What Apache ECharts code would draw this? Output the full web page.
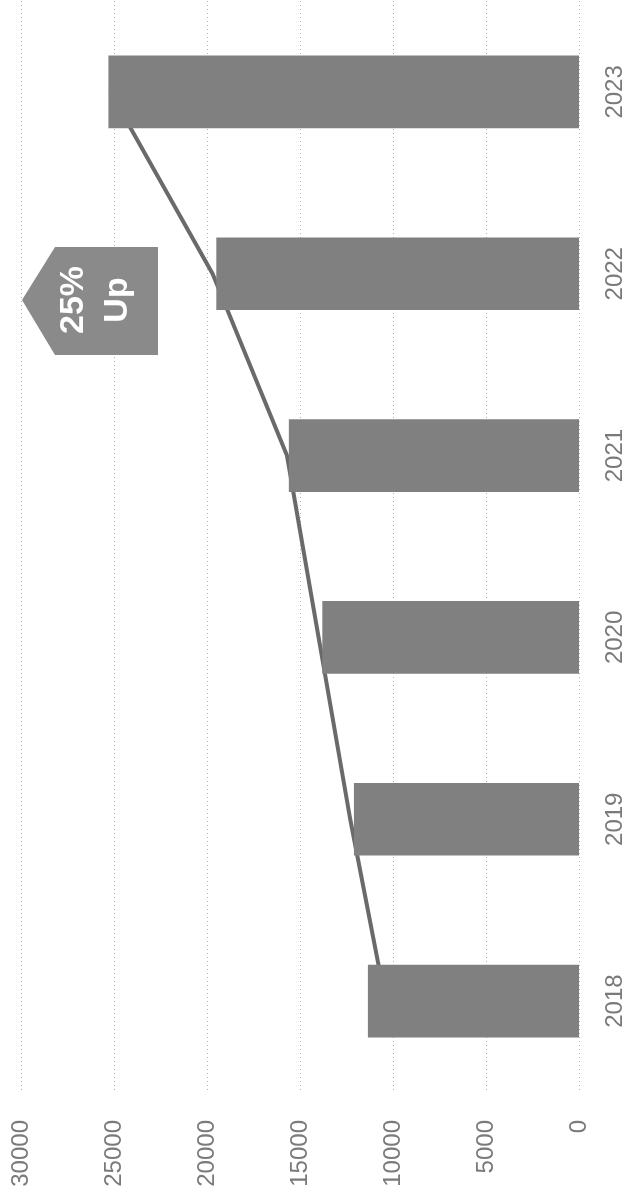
<!DOCTYPE html>
<html>
<head>
<meta charset="utf-8">
<script src="https://cdn.jsdelivr.net/npm/echarts@6/dist/echarts.min.js"></script>
<style>
  html, body { margin: 0; padding: 0; background: #ffffff; }
  #chart { width: 627px; height: 1195px; }
</style>
</head>
<body>
<div id="chart"></div>
<script>
// Yearly totals (bars) and the growth trend line drawn behind them
const years = ['2018', '2019', '2020', '2021', '2022', '2023'];
const barValues = [11350, 12100, 13800, 15600, 19500, 25300];
const trendValues = [10400, 12300, 14000, 15700, 19700, 25200];
const valueTicks = { min: 0, max: 30000, interval: 5000 };
const badgeLines = ['25%', 'Up'];

const chart = echarts.init(document.getElementById('chart'), null, { renderer: 'canvas' });

const labelFont = {
  fontFamily: 'Liberation Sans, Arial, sans-serif',
  fontSize: 24,
  color: '#7a7a7a'
};

chart.setOption({
  animation: false,
  backgroundColor: '#ffffff',
  grid: { left: 21, right: 46, top: 1, bottom: 103, containLabel: false },
  xAxis: {
    type: 'value',
    inverse: true,
    position: 'bottom',
    min: valueTicks.min,
    max: valueTicks.max,
    interval: valueTicks.interval,
    axisLine: { show: false },
    axisTick: { show: false },
    splitLine: { show: true, lineStyle: { color: '#b0b0b0', width: 1, type: [1, 3] } },
    axisLabel: Object.assign({ rotate: 90, margin: 28, formatter: (v) => String(v) }, labelFont)
  },
  yAxis: {
    type: 'category',
    position: 'right',
    data: years,
    axisLine: { show: false },
    axisTick: { show: false },
    splitLine: { show: false },
    axisLabel: Object.assign({ rotate: 90, margin: 24 }, labelFont)
  },
  series: [
    {
      name: 'trend',
      type: 'line',
      data: trendValues,
      z: 1,
      symbol: 'none',
      lineStyle: { color: '#6a6a6a', width: 4 }
    },
    {
      name: 'total',
      type: 'bar',
      data: barValues,
      z: 2,
      barWidth: '40%',
      itemStyle: { color: '#808080' }
    }
  ],
  graphic: [
    {
      type: 'polygon',
      shape: { points: [[22, 300], [55, 247], [158, 247], [158, 355], [55, 355]] },
      style: { fill: '#8a8a8a' },
      z: 10
    },
    {
      type: 'text',
      x: 96,
      y: 300,
      rotation: Math.PI / 2,
      style: {
        text: badgeLines.join('\n'),
        fill: '#ffffff',
        font: 'bold 34px "Liberation Sans", Arial, sans-serif',
        lineHeight: 44,
        align: 'center',
        verticalAlign: 'middle'
      },
      z: 11
    }
  ]
});
</script>
</body>
</html>
